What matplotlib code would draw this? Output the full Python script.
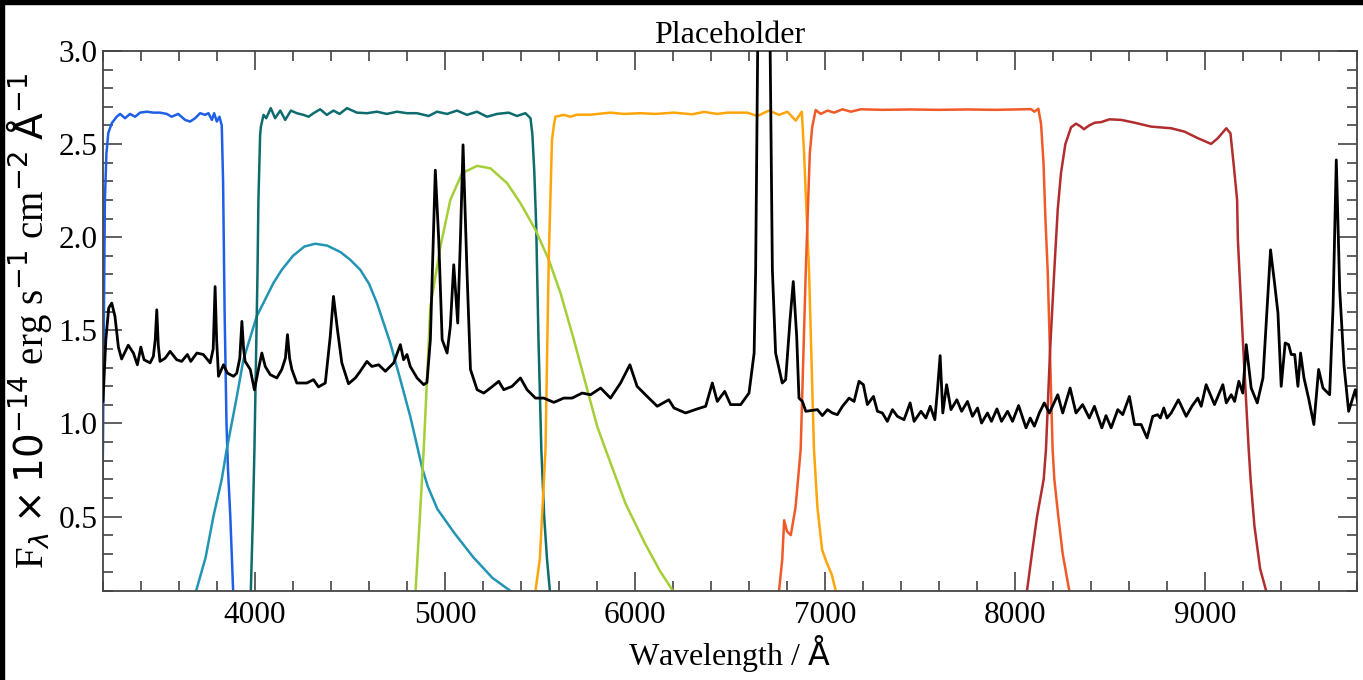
import matplotlib
matplotlib.use('Agg')
import matplotlib.pyplot as plt
from matplotlib.patches import Rectangle
import numpy as np

# --- spectrum (flux in 1e-14 erg/s/cm2/A) ---
spec_wave = [3200, 3215, 3230, 3246, 3263, 3281, 3298, 3333, 3360, 3381, 3399, 3416, 3448, 3465,
             3475, 3483, 3491, 3500, 3527, 3553, 3588, 3614, 3644, 3662, 3694, 3728, 3764, 3780,
             3790, 3798, 3808, 3834, 3855, 3887, 3904, 3920, 3931, 3940, 3948, 3975, 3997, 4018,
             4036, 4054, 4080, 4115, 4141, 4160, 4171, 4182, 4194, 4220, 4273, 4308, 4334, 4370,
             4396, 4413, 4434, 4457, 4492, 4528, 4554, 4589, 4615, 4651, 4686, 4730, 4765, 4782,
             4800, 4817, 4853, 4888, 4905, 4923, 4949, 4967, 4985, 5011, 5028, 5046, 5067, 5081,
             5095, 5116, 5134, 5169, 5204, 5239, 5283, 5309, 5353, 5397, 5432, 5476, 5520, 5573,
             5625, 5669, 5722, 5766, 5819, 5871, 5924, 5973, 6011, 6064, 6117, 6178, 6205, 6266,
             6328, 6372, 6407, 6433, 6472, 6503, 6556, 6600, 6627, 6635, 6677, 6723, 6740, 6775,
             6793, 6816, 6833, 6851, 6863, 6881, 6899, 6960, 6986, 7013, 7039, 7065, 7092, 7127,
             7153, 7179, 7202, 7223, 7255, 7276, 7302, 7328, 7355, 7381, 7416, 7448, 7469, 7505,
             7531, 7554, 7578, 7592, 7606, 7620, 7640, 7663, 7694, 7719, 7750, 7776, 7803, 7824,
             7855, 7876, 7905, 7929, 7961, 7987, 8019, 8058, 8080, 8102, 8128, 8154, 8181, 8225,
             8251, 8290, 8321, 8356, 8391, 8418, 8457, 8479, 8506, 8541, 8567, 8602, 8629, 8664,
             8695, 8725, 8751, 8765, 8783, 8800, 8822, 8860, 8901, 8931, 8962, 8980, 9006, 9050,
             9094, 9112, 9138, 9156, 9178, 9199, 9217, 9243, 9275, 9305, 9345, 9366, 9384, 9401,
             9422, 9440, 9454, 9472, 9489, 9503, 9521, 9545, 9573, 9598, 9621, 9656, 9674, 9691,
             9709, 9732, 9756, 9791, 9805]
spec_flux = [1.12, 1.45, 1.62, 1.646, 1.575, 1.41, 1.346, 1.42, 1.378, 1.315, 1.41, 1.342, 1.325, 1.36,
             1.45, 1.61, 1.42, 1.333, 1.35, 1.387, 1.342, 1.333, 1.37, 1.333, 1.378, 1.37, 1.325, 1.40,
             1.735, 1.45, 1.253, 1.315, 1.27, 1.253, 1.27, 1.35, 1.548, 1.40, 1.333, 1.29, 1.18, 1.29,
             1.378, 1.306, 1.262, 1.244, 1.29, 1.35, 1.477, 1.35, 1.29, 1.217, 1.217, 1.235, 1.196, 1.217,
             1.467, 1.682, 1.503, 1.325, 1.213, 1.244, 1.28, 1.333, 1.306, 1.315, 1.28, 1.325, 1.423, 1.342,
             1.37, 1.306, 1.244, 1.208, 1.22, 1.45, 2.36, 1.986, 1.45, 1.378, 1.521, 1.852, 1.539, 1.986,
             2.496, 1.807, 1.29, 1.181, 1.163, 1.19, 1.226, 1.181, 1.199, 1.244, 1.181, 1.136, 1.136, 1.113,
             1.136, 1.136, 1.163, 1.154, 1.19, 1.136, 1.217, 1.315, 1.199, 1.145, 1.092, 1.127, 1.083, 1.056,
             1.078, 1.092, 1.217, 1.118, 1.172, 1.101, 1.101, 1.163, 1.378, 1.825, 6.5, 1.825, 1.378, 1.217,
             1.235, 1.557, 1.762, 1.467, 1.136, 1.118, 1.065, 1.074, 1.042, 1.074, 1.056, 1.047, 1.092, 1.136,
             1.118, 1.226, 1.208, 1.101, 1.145, 1.065, 1.056, 1.011, 1.074, 1.038, 1.02, 1.11, 1.011, 1.065,
             1.029, 1.092, 1.02, 1.181, 1.364, 1.056, 1.208, 1.074, 1.127, 1.065, 1.118, 1.038, 1.083, 1.002,
             1.056, 1.011, 1.078, 1.011, 1.065, 1.011, 1.096, 0.976, 1.029, 0.985, 1.056, 1.11, 1.056, 1.154,
             1.056, 1.19, 1.056, 1.101, 1.029, 1.092, 0.976, 1.042, 0.976, 1.074, 1.047, 1.145, 0.994, 0.994,
             0.922, 1.038, 1.047, 1.029, 1.083, 1.029, 1.056, 1.127, 1.038, 1.092, 1.136, 1.092, 1.208, 1.101,
             1.208, 1.11, 1.154, 1.118, 1.226, 1.163, 1.423, 1.19, 1.11, 1.244, 1.932, 1.754, 1.593, 1.199,
             1.432, 1.423, 1.37, 1.37, 1.199, 1.378, 1.244, 1.136, 0.994, 1.29, 1.19, 1.154, 1.628, 2.415,
             1.718, 1.306, 1.065, 1.181, 1.11]

# --- filter transmission curves (scaled) ---
f1_wave = [3195, 3200, 3205, 3210, 3218, 3228, 3246, 3272, 3290, 3316, 3342, 3369, 3395, 3430, 3465,
           3500, 3536, 3561, 3596, 3632, 3658, 3685, 3711, 3737, 3755, 3773, 3785, 3799, 3813, 3825,
           3832, 3840, 3850, 3858, 3870, 3885, 3895]
f1_trans = [0.5, 0.9, 1.6, 2.2, 2.45, 2.56, 2.612, 2.647, 2.662, 2.639, 2.662, 2.647, 2.669, 2.674, 2.669,
            2.669, 2.662, 2.647, 2.662, 2.63, 2.621, 2.639, 2.666, 2.657, 2.666, 2.63, 2.666, 2.621, 2.647, 2.6,
            2.3, 1.6, 1.0, 0.75, 0.5, 0.1, 0.0]

f2_wave = [3690, 3740, 3781, 3825, 3851, 3900, 3939, 4009, 4097, 4141, 4200, 4260, 4317, 4380, 4450,
           4500, 4554, 4600, 4642, 4712, 4765, 4817, 4853, 4880, 4910, 4960, 5050, 5150, 5250, 5345, 5380]
f2_trans = [0.1, 0.28, 0.5, 0.70, 0.86, 1.12, 1.342, 1.575, 1.754, 1.825, 1.9, 1.95, 1.965, 1.955, 1.92,
            1.88, 1.825, 1.75, 1.646, 1.432, 1.235, 1.038, 0.88, 0.76, 0.66, 0.54, 0.41, 0.28, 0.17, 0.1, 0.07]

f3_wave = [3970, 3978, 3989, 3997, 4013, 4018, 4027, 4031, 4045, 4059, 4083, 4106, 4133, 4159, 4189,
           4220, 4255, 4282, 4308, 4343, 4378, 4413, 4445, 4484, 4536, 4589, 4642, 4694, 4747, 4800,
           4852, 4914, 4958, 5011, 5063, 5116, 5168, 5221, 5274, 5335, 5379, 5423, 5450, 5460, 5470,
           5480, 5492, 5507, 5522, 5537, 5552, 5560]
f3_trans = [0.0, 0.1, 0.5, 0.86, 1.8, 2.2, 2.55, 2.594, 2.657, 2.639, 2.693, 2.639, 2.68, 2.63, 2.68,
            2.666, 2.657, 2.647, 2.666, 2.687, 2.657, 2.68, 2.662, 2.693, 2.669, 2.666, 2.674, 2.662, 2.674, 2.666,
            2.666, 2.651, 2.674, 2.662, 2.68, 2.657, 2.674, 2.647, 2.662, 2.669, 2.651, 2.666, 2.639, 2.55, 2.35,
            2.06, 1.45, 0.86, 0.5, 0.27, 0.1, 0.0]

f4_wave = [4835, 4845, 4865, 4888, 4923, 4976, 5028, 5090, 5169, 5239, 5327, 5397, 5476, 5546, 5608,
           5678, 5749, 5801, 5845, 5950, 6050, 6130, 6200, 6230]
f4_trans = [0.0, 0.1, 0.45, 0.86, 1.628, 1.95, 2.2, 2.344, 2.383, 2.37, 2.29, 2.183, 2.04, 1.879, 1.70,
            1.45, 1.181, 0.984, 0.86, 0.57, 0.36, 0.21, 0.1, 0.05]

f5_wave = [5470, 5476, 5499, 5529, 5546, 5563, 5572, 5581, 5625, 5660, 5695, 5766, 5871, 5941, 6029,
           6108, 6205, 6301, 6363, 6433, 6486, 6547, 6591, 6644, 6705, 6758, 6802, 6846, 6878, 6890,
           6900, 6916, 6930, 6942, 6960, 6985, 7010, 7035, 7057, 7065]
f5_trans = [0.0, 0.1, 0.27, 0.86, 1.88, 2.52, 2.594, 2.647, 2.657, 2.647, 2.658, 2.658, 2.669, 2.662, 2.666,
            2.662, 2.669, 2.66, 2.673, 2.662, 2.669, 2.669, 2.669, 2.651, 2.68, 2.657, 2.674, 2.626, 2.674, 2.45,
            2.2, 1.82, 1.3, 0.86, 0.55, 0.32, 0.25, 0.19, 0.1, 0.05]

f6_wave = [6750, 6758, 6775, 6785, 6800, 6820, 6845, 6872, 6899, 6920, 6933, 6951, 6978, 7013, 7048,
           7092, 7136, 7188, 7300, 7450, 7600, 7750, 7900, 8000, 8084, 8102, 8123, 8137, 8150, 8160,
           8172, 8185, 8198, 8207, 8228, 8251, 8286, 8295]
f6_trans = [0.0, 0.1, 0.27, 0.48, 0.42, 0.4, 0.55, 0.86, 1.825, 2.45, 2.594, 2.683, 2.662, 2.68, 2.669,
            2.687, 2.674, 2.687, 2.684, 2.686, 2.684, 2.686, 2.684, 2.686, 2.688, 2.674, 2.69, 2.61, 2.4, 2.1,
            1.82, 1.35, 0.86, 0.7, 0.5, 0.3, 0.1, 0.05]

f7_wave = [8055, 8063, 8089, 8116, 8151, 8163, 8185, 8207, 8225, 8242, 8265, 8295, 8321, 8345, 8363,
           8390, 8420, 8453, 8497, 8559, 8629, 8716, 8822, 8892, 8962, 9032, 9068, 9112, 9134, 9152,
           9169, 9173, 9199, 9230, 9240, 9260, 9290, 9322, 9330]
f7_trans = [0.0, 0.1, 0.3, 0.5, 0.7, 0.86, 1.4, 1.825, 2.15, 2.344, 2.5, 2.59, 2.61, 2.595, 2.58,
            2.6, 2.615, 2.618, 2.633, 2.63, 2.615, 2.594, 2.585, 2.567, 2.532, 2.501, 2.532, 2.585, 2.558, 2.379,
            2.2, 1.986, 1.45, 0.86, 0.7, 0.45, 0.22, 0.1, 0.05]

filters = [(f1_wave, f1_trans, '#1f5fe6'),
           (f2_wave, f2_trans, '#2294b4'),
           (f3_wave, f3_trans, '#0e6b6e'),
           (f4_wave, f4_trans, '#a4cf37'),
           (f5_wave, f5_trans, '#ffa50a'),
           (f6_wave, f6_trans, '#f05a28'),
           (f7_wave, f7_trans, '#b22d2d')]

plt.rcParams['font.family'] = ['Liberation Serif', 'DejaVu Sans']
plt.rcParams['mathtext.fontset'] = 'dejavusans'

fig = plt.figure(figsize=(13.63, 6.8), dpi=100)
ax = fig.add_axes([103/1363., 1-591/680., (1357-103)/1363., (591-51)/680.])

for w, t, c in filters:
    ax.plot(w, t, color=c, lw=1.8, zorder=2)
ax.plot(spec_wave, spec_flux, color='black', lw=2.0, zorder=3)

ax.set_xlim(3200, 9800)
ax.set_ylim(0.1, 3.0)
ax.set_xticks([4000, 5000, 6000, 7000, 8000, 9000])
ax.set_xticks(np.arange(3200, 9801, 200), minor=True)
ax.set_yticks([0.5, 1.0, 1.5, 2.0, 2.5, 3.0])
ax.set_yticks(np.arange(0.1, 3.01, 0.1), minor=True)
ax.tick_params(which='both', direction='in', top=True, right=True,
               color='#444444', labelsize=22.5, width=1.2)
ax.tick_params(which='major', length=14, pad=7)
ax.tick_params(which='minor', length=7.5)
ax.tick_params(axis='y', pad=4)
for s in ax.spines.values():
    s.set_color('#444444')
    s.set_linewidth(1.3)

ax.set_title('Placeholder', fontsize=23, pad=6)
ax.set_xlabel(r'Wavelength / $\mathrm{\AA}$', fontsize=23, labelpad=2)
ax.set_ylabel(r'F$_\lambda\times10^{-14}$ erg s$^{-1}$ cm$^{-2}$ $\mathrm{\AA}^{-1}$',
              fontsize=28, labelpad=3)

# black frame strips of the original screenshot
fig.add_artist(Rectangle((0, 1-4/680.), 1, 4/680., transform=fig.transFigure,
                         color='black', zorder=10))
fig.add_artist(Rectangle((0, 0), 4/1363., 1, transform=fig.transFigure,
                         color='black', zorder=10))

fig.savefig('out.png', dpi=100)
